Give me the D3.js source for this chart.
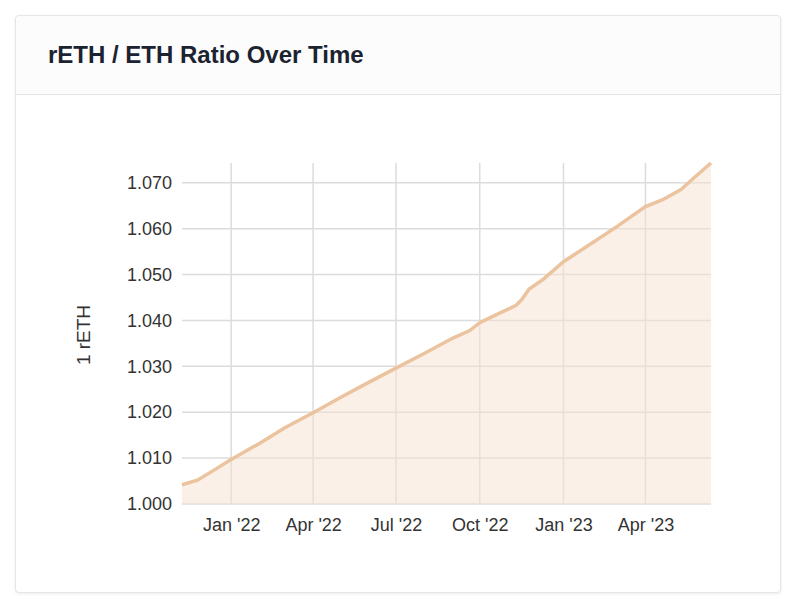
<!DOCTYPE html>
<html><head><meta charset="utf-8">
<script src="https://cdn.jsdelivr.net/npm/d3@7"></script>
<style>
body{margin:0;background:#fff;font-family:"Helvetica Neue",Helvetica,"Liberation Sans",Arial,sans-serif}
.card{position:absolute;left:15px;top:15px;width:764px;height:576px;border:1px solid #e5e5e5;border-radius:4px;box-shadow:0 1px 3px rgba(0,0,0,0.08);background:#fff}
.hdr{height:78px;border-bottom:1px solid #e3e3e3;background:#fcfcfc;border-radius:4px 4px 0 0}
.hdr h1{margin:0;padding:25px 0 0 32px;font-size:24px;font-weight:600;color:#1c2330}
svg{position:absolute;left:0;top:0}
</style></head><body>
<div class="card"><div class="hdr"><h1>rETH / ETH Ratio Over Time</h1></div></div>
<svg id="chart" width="794" height="606"></svg>
<script>
var dates = ["2021-11-08","2021-11-25","2021-12-10","2022-01-01","2022-02-01","2022-03-01","2022-04-01","2022-05-01","2022-06-01","2022-07-01","2022-08-01","2022-09-01","2022-09-20","2022-10-01","2022-10-20","2022-11-10","2022-11-16","2022-11-24","2022-12-10","2023-01-01","2023-02-01","2023-03-01","2023-04-01","2023-04-20","2023-05-10","2023-05-25","2023-06-12"]
var ratios = [1.0042,1.0052,1.0070,1.0097,1.0132,1.0166,1.0199,1.0232,1.0265,1.0296,1.0328,1.0361,1.0378,1.0395,1.0413,1.0433,1.0445,1.0468,1.0490,1.0528,1.0568,1.0605,1.0648,1.0663,1.0685,1.0712,1.0743]
var yTicks = [1.000,1.010,1.020,1.030,1.040,1.050,1.060,1.070]
var xTicks = ["2022-01-01","2022-04-01","2022-07-01","2022-10-01","2023-01-01","2023-04-01"]

var parse = d3.timeParse("%Y-%m-%d")
var data = dates.map((d,i)=>[parse(d), ratios[i]])
var svg = d3.select("#chart")
var pLeft = 182, pRight = 711, pTop = 163, pBottom = 504

var x = d3.scaleTime().domain([parse("2021-11-08"), parse("2023-06-12")]).range([pLeft, pRight])
var y = d3.scaleLinear().domain([1.000, 1.0743]).range([pBottom, pTop])

var g = svg.append("g")
g.selectAll(".hg").data(yTicks).enter().append("line")
  .attr("x1", pLeft).attr("x2", pRight)
  .attr("y1", d=>y(d)).attr("y2", d=>y(d))
  .attr("stroke", "#dcdcdc").attr("stroke-width", 1.5)
g.selectAll(".vg").data(xTicks).enter().append("line")
  .attr("x1", d=>x(parse(d))).attr("x2", d=>x(parse(d)))
  .attr("y1", pTop).attr("y2", pBottom)
  .attr("stroke", "#dcdcdc").attr("stroke-width", 1.5)

g.append("path").datum(data)
  .attr("fill", "#f5e2d2").attr("fill-opacity", 0.5)
  .attr("d", d3.area().x(d=>x(d[0])).y0(pBottom).y1(d=>y(d[1])))
g.append("path").datum(data)
  .attr("fill", "none").attr("stroke", "#ebc39e").attr("stroke-width", 3.5)
  .attr("d", d3.line().x(d=>x(d[0])).y(d=>y(d[1])))

var yAxis = d3.axisLeft(y).tickValues(yTicks).tickFormat(d3.format(".3f")).tickSize(0).tickPadding(10)
svg.append("g").attr("transform", `translate(${pLeft},0)`).call(yAxis)
var xAxis = d3.axisBottom(x).tickValues(xTicks.map(parse)).tickFormat(d3.timeFormat("%b '%y")).tickSize(0).tickPadding(14)
svg.append("g").attr("transform", `translate(0,${pBottom})`).call(xAxis)
svg.selectAll(".domain").remove()
svg.selectAll(".tick text").attr("font-size", 18).attr("fill", "#333")
  .attr("font-family", "'Helvetica Neue',Helvetica,'Liberation Sans',Arial,sans-serif")

svg.append("text").attr("transform", "translate(90,335) rotate(-90)")
  .attr("text-anchor", "middle").attr("font-size", 19).attr("fill", "#333")
  .text("1 rETH")
</script></body></html>
